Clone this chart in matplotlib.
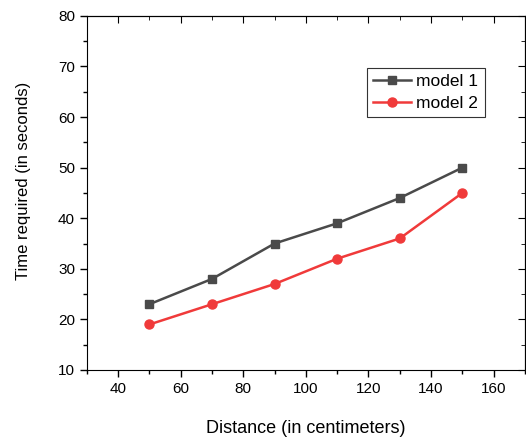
import matplotlib.pyplot as plt
from matplotlib.ticker import MultipleLocator

plt.rcParams['font.family'] = ['Liberation Sans', 'DejaVu Sans']

distance = [50, 70, 90, 110, 130, 150]
model1 = [23, 28, 35, 39, 44, 50]
model2 = [19, 23, 27, 32, 36, 45]

fig = plt.figure(figsize=(5.26, 4.41), dpi=100)
ax = fig.add_axes([0.165, 0.161, 0.833, 0.803])

ax.plot(distance, model1, color='#4a4a4a', marker='s', markersize=6, linewidth=1.8, label='model 1')
ax.plot(distance, model2, color='#f03a3a', marker='o', markersize=6.5, linewidth=1.8, label='model 2')

ax.set_xlim(30, 170)
ax.set_ylim(10, 80)
ax.xaxis.set_major_locator(MultipleLocator(20))
ax.xaxis.set_minor_locator(MultipleLocator(10))
ax.yaxis.set_major_locator(MultipleLocator(10))
ax.yaxis.set_minor_locator(MultipleLocator(5))

ax.tick_params(which='both', direction='out', top=False, right=False, labelsize=11, width=1)
ax.tick_params(which='major', length=5)
ax.tick_params(which='minor', length=3)

# inward ticks on top and right, Origin style
secx = ax.secondary_xaxis('top')
secx.xaxis.set_major_locator(MultipleLocator(20))
secx.xaxis.set_minor_locator(MultipleLocator(10))
secx.tick_params(which='both', direction='in', labeltop=False)
secx.tick_params(which='major', length=5)
secx.tick_params(which='minor', length=3)
secy = ax.secondary_yaxis('right')
secy.yaxis.set_major_locator(MultipleLocator(10))
secy.yaxis.set_minor_locator(MultipleLocator(5))
secy.tick_params(which='both', direction='in', labelright=False)
secy.tick_params(which='major', length=5)
secy.tick_params(which='minor', length=3)

ax.set_xlabel('Distance (in centimeters)', fontsize=13)
ax.xaxis.set_label_coords(0.5, -0.141)
ax.set_ylabel('Time required (in seconds)', fontsize=12)
ax.yaxis.set_label_coords(-0.128, 0.534)

leg = ax.legend(loc='upper left', bbox_to_anchor=(0.639, 0.853), fontsize=12.5,
                frameon=True, fancybox=False, edgecolor='#333333', framealpha=1,
                borderaxespad=0, handlelength=2.2, borderpad=0.36, labelspacing=0.37,
                handletextpad=0.3)
leg.get_frame().set_linewidth(0.8)

fig.savefig('out.png', dpi=100)
